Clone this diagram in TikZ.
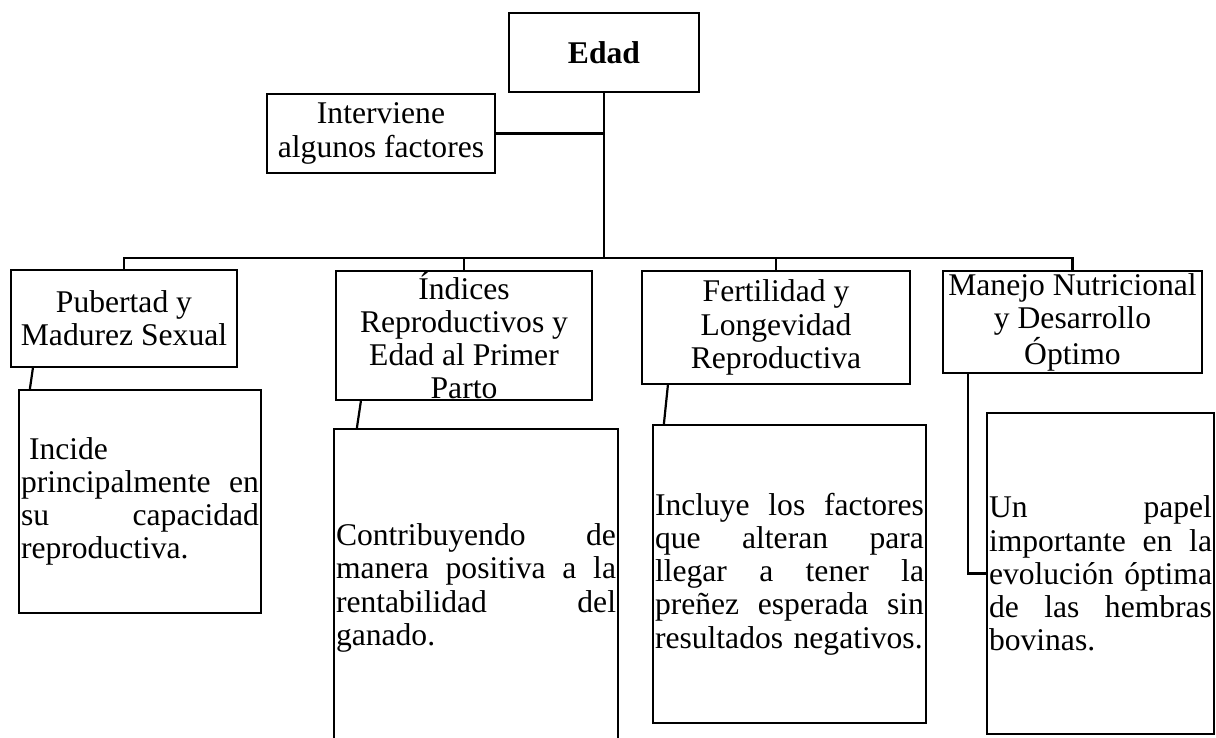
\documentclass[tikz,border=0pt]{standalone}
\usepackage{fontspec}
\setmainfont{Liberation Serif}

\begin{document}
\begin{tikzpicture}[x=0.5pt, y=-0.5pt, line width=1.1pt,
    font=\fontsize{15.8}{16.6}\selectfont,
    box/.style={draw, inner sep=0pt, align=center},
    txt/.style={draw, inner xsep=1pt, inner ysep=0pt, align=left}]
    \useasboundingbox (0, 0) rectangle (1216, 738);
    \node [box, minimum width=95pt, minimum height=39.5pt] (edad) at (604, 52.5) {\textbf{Edad}};
    \node [box, minimum width=114pt, minimum height=39.5pt] (fact) at (381, 133.5) {Interviene\\algunos factores};
    \node [box, minimum width=113pt, minimum height=48.5pt] (t1) at (124, 318.5) {Pubertad y\\Madurez Sexual};
    \node [box, minimum width=128pt, minimum height=64.5pt] (t2) at (464, 335.5) {Índices\\Reproductivos y\\Edad al Primer\\Parto};
    \node [box, minimum width=134pt, minimum height=56.5pt] (t3) at (776, 327.5) {Fertilidad y\\Longevidad\\Reproductiva};
    \node [box, minimum width=129.5pt, minimum height=51pt] (t4) at (1072.5, 322) {Manejo Nutricional\\y Desarrollo\\Óptimo};
    \node [txt, text width=119pt, minimum height=111.5pt] (d1) at (140, 501.5) {\hspace*{4pt}Incide\\principalmente\hfill en\\su\hfill capacidad\\reproductiva.};
    \node [txt, text width=140pt, minimum height=159pt] (d2) at (476, 588) {Contribuyendo\hfill de\\manera\hfill positiva\hfill a\hfill la\\rentabilidad\hfill del\\ganado.};
    \node [txt, text width=134.5pt, minimum height=149pt] (d3) at (789.5, 574) {Incluye\hfill los\hfill factores\\que\hfill alteran\hfill para\\llegar\hfill a\hfill tener\hfill la\\preñez\hfill esperada\hfill sin\\resultados negativos.};
    \node [txt, text width=111.5pt, minimum height=160.5pt] (d4) at (1100.5, 573.5) {Un\hfill papel\\importante\hfill en\hfill la\\evolución\hfill óptima\\de\hfill las\hfill hembras\\bovinas.};
    \coordinate (bus) at (604, 258);
    \draw (edad) -- (bus);
    \draw (fact) -- (fact -| edad);
    \draw (t1) |- (bus) -| (t4);
    \draw (t2) -- (t2 |- bus);
    \draw (t3) -- (t3 |- bus);
    \draw ([xshift=11.5pt]t1.south west) -- ([xshift=6pt]d1.north west);
    \draw ([xshift=13pt]t2.south west) -- ([xshift=12pt]d2.north west);
    \draw ([xshift=13.5pt]t3.south west) -- ([xshift=6pt]d3.north west);
    \draw ([xshift=13pt]t4.south west) |- (d4);
\end{tikzpicture}
\end{document}
